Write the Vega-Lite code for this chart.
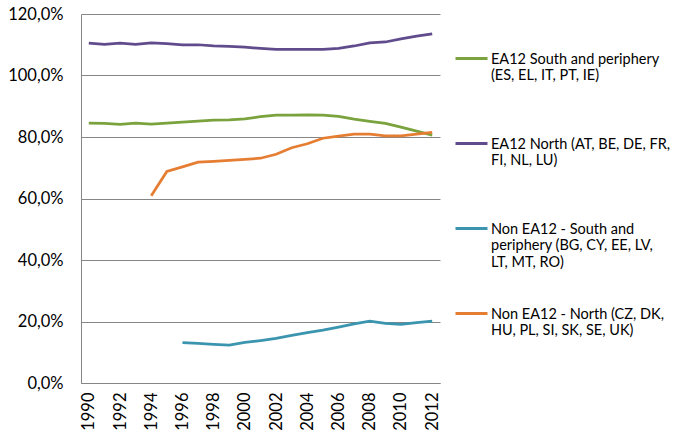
{
  "$schema": "https://vega.github.io/schema/vega-lite/v6.json",
  "width": 359,
  "height": 369,
  "autosize": {"type": "none"},
  "padding": {"left": 81, "top": 14, "right": 234, "bottom": 64},
  "background": "white",
  "config": {"view": {"stroke": null}, "font": "Lato"},
  "data": {"values": [
    {"year": 1990, "series": "EA12 South and periphery (ES, EL, IT, PT, IE)", "value": 0.845},
    {"year": 1991, "series": "EA12 South and periphery (ES, EL, IT, PT, IE)", "value": 0.844},
    {"year": 1992, "series": "EA12 South and periphery (ES, EL, IT, PT, IE)", "value": 0.841},
    {"year": 1993, "series": "EA12 South and periphery (ES, EL, IT, PT, IE)", "value": 0.845},
    {"year": 1994, "series": "EA12 South and periphery (ES, EL, IT, PT, IE)", "value": 0.842},
    {"year": 1995, "series": "EA12 South and periphery (ES, EL, IT, PT, IE)", "value": 0.845},
    {"year": 1996, "series": "EA12 South and periphery (ES, EL, IT, PT, IE)", "value": 0.848},
    {"year": 1997, "series": "EA12 South and periphery (ES, EL, IT, PT, IE)", "value": 0.852},
    {"year": 1998, "series": "EA12 South and periphery (ES, EL, IT, PT, IE)", "value": 0.855},
    {"year": 1999, "series": "EA12 South and periphery (ES, EL, IT, PT, IE)", "value": 0.856},
    {"year": 2000, "series": "EA12 South and periphery (ES, EL, IT, PT, IE)", "value": 0.859},
    {"year": 2001, "series": "EA12 South and periphery (ES, EL, IT, PT, IE)", "value": 0.866},
    {"year": 2002, "series": "EA12 South and periphery (ES, EL, IT, PT, IE)", "value": 0.871},
    {"year": 2003, "series": "EA12 South and periphery (ES, EL, IT, PT, IE)", "value": 0.871},
    {"year": 2004, "series": "EA12 South and periphery (ES, EL, IT, PT, IE)", "value": 0.872},
    {"year": 2005, "series": "EA12 South and periphery (ES, EL, IT, PT, IE)", "value": 0.871},
    {"year": 2006, "series": "EA12 South and periphery (ES, EL, IT, PT, IE)", "value": 0.867},
    {"year": 2007, "series": "EA12 South and periphery (ES, EL, IT, PT, IE)", "value": 0.858},
    {"year": 2008, "series": "EA12 South and periphery (ES, EL, IT, PT, IE)", "value": 0.851},
    {"year": 2009, "series": "EA12 South and periphery (ES, EL, IT, PT, IE)", "value": 0.844},
    {"year": 2010, "series": "EA12 South and periphery (ES, EL, IT, PT, IE)", "value": 0.832},
    {"year": 2011, "series": "EA12 South and periphery (ES, EL, IT, PT, IE)", "value": 0.819},
    {"year": 2012, "series": "EA12 South and periphery (ES, EL, IT, PT, IE)", "value": 0.806},
    {"year": 1990, "series": "EA12 North (AT, BE, DE, FR, FI, NL, LU)", "value": 1.105},
    {"year": 1991, "series": "EA12 North (AT, BE, DE, FR, FI, NL, LU)", "value": 1.101},
    {"year": 1992, "series": "EA12 North (AT, BE, DE, FR, FI, NL, LU)", "value": 1.105},
    {"year": 1993, "series": "EA12 North (AT, BE, DE, FR, FI, NL, LU)", "value": 1.101},
    {"year": 1994, "series": "EA12 North (AT, BE, DE, FR, FI, NL, LU)", "value": 1.106},
    {"year": 1995, "series": "EA12 North (AT, BE, DE, FR, FI, NL, LU)", "value": 1.104},
    {"year": 1996, "series": "EA12 North (AT, BE, DE, FR, FI, NL, LU)", "value": 1.100},
    {"year": 1997, "series": "EA12 North (AT, BE, DE, FR, FI, NL, LU)", "value": 1.100},
    {"year": 1998, "series": "EA12 North (AT, BE, DE, FR, FI, NL, LU)", "value": 1.096},
    {"year": 1999, "series": "EA12 North (AT, BE, DE, FR, FI, NL, LU)", "value": 1.095},
    {"year": 2000, "series": "EA12 North (AT, BE, DE, FR, FI, NL, LU)", "value": 1.092},
    {"year": 2001, "series": "EA12 North (AT, BE, DE, FR, FI, NL, LU)", "value": 1.088},
    {"year": 2002, "series": "EA12 North (AT, BE, DE, FR, FI, NL, LU)", "value": 1.085},
    {"year": 2003, "series": "EA12 North (AT, BE, DE, FR, FI, NL, LU)", "value": 1.085},
    {"year": 2004, "series": "EA12 North (AT, BE, DE, FR, FI, NL, LU)", "value": 1.085},
    {"year": 2005, "series": "EA12 North (AT, BE, DE, FR, FI, NL, LU)", "value": 1.085},
    {"year": 2006, "series": "EA12 North (AT, BE, DE, FR, FI, NL, LU)", "value": 1.088},
    {"year": 2007, "series": "EA12 North (AT, BE, DE, FR, FI, NL, LU)", "value": 1.096},
    {"year": 2008, "series": "EA12 North (AT, BE, DE, FR, FI, NL, LU)", "value": 1.106},
    {"year": 2009, "series": "EA12 North (AT, BE, DE, FR, FI, NL, LU)", "value": 1.109},
    {"year": 2010, "series": "EA12 North (AT, BE, DE, FR, FI, NL, LU)", "value": 1.119},
    {"year": 2011, "series": "EA12 North (AT, BE, DE, FR, FI, NL, LU)", "value": 1.128},
    {"year": 2012, "series": "EA12 North (AT, BE, DE, FR, FI, NL, LU)", "value": 1.135},
    {"year": 1996, "series": "Non EA12 - South and periphery (BG, CY, EE, LV, LT, MT, RO)", "value": 0.131},
    {"year": 1997, "series": "Non EA12 - South and periphery (BG, CY, EE, LV, LT, MT, RO)", "value": 0.129},
    {"year": 1998, "series": "Non EA12 - South and periphery (BG, CY, EE, LV, LT, MT, RO)", "value": 0.126},
    {"year": 1999, "series": "Non EA12 - South and periphery (BG, CY, EE, LV, LT, MT, RO)", "value": 0.123},
    {"year": 2000, "series": "Non EA12 - South and periphery (BG, CY, EE, LV, LT, MT, RO)", "value": 0.132},
    {"year": 2001, "series": "Non EA12 - South and periphery (BG, CY, EE, LV, LT, MT, RO)", "value": 0.138},
    {"year": 2002, "series": "Non EA12 - South and periphery (BG, CY, EE, LV, LT, MT, RO)", "value": 0.145},
    {"year": 2003, "series": "Non EA12 - South and periphery (BG, CY, EE, LV, LT, MT, RO)", "value": 0.155},
    {"year": 2004, "series": "Non EA12 - South and periphery (BG, CY, EE, LV, LT, MT, RO)", "value": 0.164},
    {"year": 2005, "series": "Non EA12 - South and periphery (BG, CY, EE, LV, LT, MT, RO)", "value": 0.172},
    {"year": 2006, "series": "Non EA12 - South and periphery (BG, CY, EE, LV, LT, MT, RO)", "value": 0.182},
    {"year": 2007, "series": "Non EA12 - South and periphery (BG, CY, EE, LV, LT, MT, RO)", "value": 0.192},
    {"year": 2008, "series": "Non EA12 - South and periphery (BG, CY, EE, LV, LT, MT, RO)", "value": 0.201},
    {"year": 2009, "series": "Non EA12 - South and periphery (BG, CY, EE, LV, LT, MT, RO)", "value": 0.194},
    {"year": 2010, "series": "Non EA12 - South and periphery (BG, CY, EE, LV, LT, MT, RO)", "value": 0.191},
    {"year": 2011, "series": "Non EA12 - South and periphery (BG, CY, EE, LV, LT, MT, RO)", "value": 0.196},
    {"year": 2012, "series": "Non EA12 - South and periphery (BG, CY, EE, LV, LT, MT, RO)", "value": 0.201},
    {"year": 1994, "series": "Non EA12 - North (CZ, DK, HU, PL, SI, SK, SE, UK)", "value": 0.609},
    {"year": 1995, "series": "Non EA12 - North (CZ, DK, HU, PL, SI, SK, SE, UK)", "value": 0.688},
    {"year": 1996, "series": "Non EA12 - North (CZ, DK, HU, PL, SI, SK, SE, UK)", "value": 0.703},
    {"year": 1997, "series": "Non EA12 - North (CZ, DK, HU, PL, SI, SK, SE, UK)", "value": 0.718},
    {"year": 1998, "series": "Non EA12 - North (CZ, DK, HU, PL, SI, SK, SE, UK)", "value": 0.721},
    {"year": 1999, "series": "Non EA12 - North (CZ, DK, HU, PL, SI, SK, SE, UK)", "value": 0.724},
    {"year": 2000, "series": "Non EA12 - North (CZ, DK, HU, PL, SI, SK, SE, UK)", "value": 0.727},
    {"year": 2001, "series": "Non EA12 - North (CZ, DK, HU, PL, SI, SK, SE, UK)", "value": 0.731},
    {"year": 2002, "series": "Non EA12 - North (CZ, DK, HU, PL, SI, SK, SE, UK)", "value": 0.744},
    {"year": 2003, "series": "Non EA12 - North (CZ, DK, HU, PL, SI, SK, SE, UK)", "value": 0.765},
    {"year": 2004, "series": "Non EA12 - North (CZ, DK, HU, PL, SI, SK, SE, UK)", "value": 0.778},
    {"year": 2005, "series": "Non EA12 - North (CZ, DK, HU, PL, SI, SK, SE, UK)", "value": 0.796},
    {"year": 2006, "series": "Non EA12 - North (CZ, DK, HU, PL, SI, SK, SE, UK)", "value": 0.803},
    {"year": 2007, "series": "Non EA12 - North (CZ, DK, HU, PL, SI, SK, SE, UK)", "value": 0.809},
    {"year": 2008, "series": "Non EA12 - North (CZ, DK, HU, PL, SI, SK, SE, UK)", "value": 0.809},
    {"year": 2009, "series": "Non EA12 - North (CZ, DK, HU, PL, SI, SK, SE, UK)", "value": 0.804},
    {"year": 2010, "series": "Non EA12 - North (CZ, DK, HU, PL, SI, SK, SE, UK)", "value": 0.804},
    {"year": 2011, "series": "Non EA12 - North (CZ, DK, HU, PL, SI, SK, SE, UK)", "value": 0.809},
    {"year": 2012, "series": "Non EA12 - North (CZ, DK, HU, PL, SI, SK, SE, UK)", "value": 0.815}
  ]},
  "mark": {"type": "line", "strokeWidth": 2.75},
  "encoding": {
    "x": {
      "field": "year", "type": "ordinal",
      "scale": {"type": "point", "padding": 0.5},
      "axis": {
        "title": null,
        "values": [1990, 1992, 1994, 1996, 1998, 2000, 2002, 2004, 2006, 2008, 2010, 2012],
        "labelAngle": -90,
        "labelAlign": "right",
        "labelBaseline": "middle",
        "labelPadding": 9,
        "labelFontSize": 16.5,
        "labelFont": "Lato",
        "labelColor": "#000000",
        "ticks": false,
        "domainColor": "#868686",
        "domainWidth": 1,
        "grid": false
      }
    },
    "y": {
      "field": "value", "type": "quantitative",
      "scale": {"domain": [0, 1.2], "nice": false, "zero": true},
      "axis": {
        "title": null,
        "values": [0, 0.2, 0.4, 0.6, 0.8, 1.0, 1.2],
        "labelExpr": "replace(format(datum.value, '.1%'), '.', ',')",
        "labelFontSize": 16.5,
        "labelFont": "Lato",
        "labelColor": "#000000",
        "labelPadding": 18,
        "ticks": false,
        "domainColor": "#868686",
        "grid": true,
        "gridColor": "#868686",
        "gridWidth": 1
      }
    },
    "stroke": {
      "field": "series", "type": "nominal",
      "scale": {
        "domain": [
          "EA12 South and periphery (ES, EL, IT, PT, IE)",
          "EA12 North (AT, BE, DE, FR, FI, NL, LU)",
          "Non EA12 - South and periphery (BG, CY, EE, LV, LT, MT, RO)",
          "Non EA12 - North (CZ, DK, HU, PL, SI, SK, SE, UK)"
        ],
        "range": ["#7AA23D", "#604C8C", "#3B95AF", "#E57E33"]
      },
      "legend": {
        "title": null,
        "orient": "none",
        "legendX": 373,
        "legendY": 32,
        "padding": 0,
        "symbolType": "M-1,-0.31L1,-0.31",
        "symbolSize": 1024,
        "symbolStrokeWidth": 3,
        "symbolFillColor": "transparent",
        "labelBaseline": "alphabetic",
        "labelFont": "Lato",
        "labelFontSize": 14.5,
        "labelLineHeight": 16,
        "labelColor": "#000000",
        "labelLimit": 400,
        "labelOffset": 2,
        "rowPadding": 32,
        "labelExpr": "datum.label == 'EA12 South and periphery (ES, EL, IT, PT, IE)' ? ['EA12 South and periphery', '(ES, EL, IT, PT, IE)', ' '] : datum.label == 'EA12 North (AT, BE, DE, FR, FI, NL, LU)' ? ['EA12 North (AT, BE, DE, FR,', 'FI, NL, LU)', ' '] : datum.label == 'Non EA12 - South and periphery (BG, CY, EE, LV, LT, MT, RO)' ? ['Non EA12 - South and', 'periphery (BG, CY, EE, LV,', 'LT, MT, RO)'] : ['Non EA12 - North (CZ, DK,', 'HU, PL, SI, SK, SE, UK)', ' ']"
      }
    }
  }
}
